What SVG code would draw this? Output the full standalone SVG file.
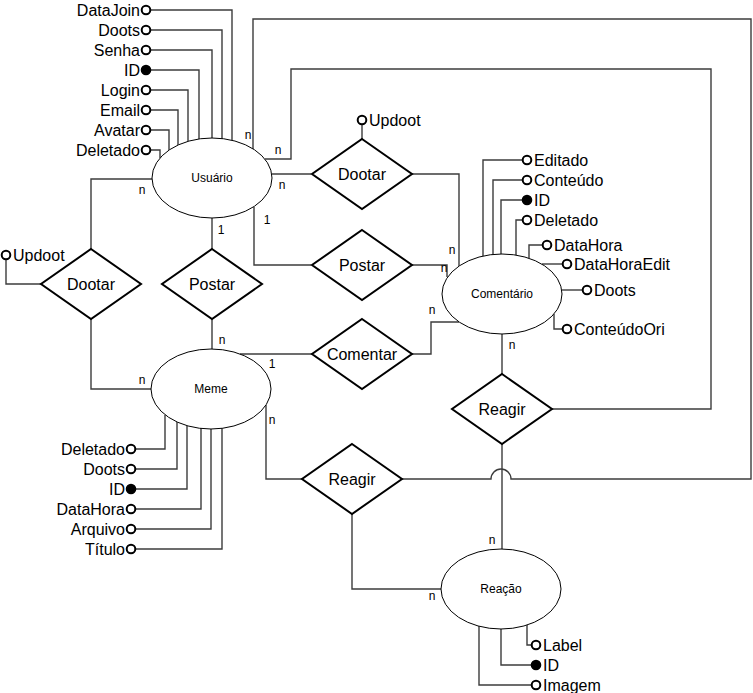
<svg xmlns="http://www.w3.org/2000/svg" width="753" height="693" viewBox="0 0 753 693">
<style>
.c{fill:none;stroke:#3c3c3c;stroke-width:1.4}
.e{fill:#fff;stroke:#000;stroke-width:1}
.d{fill:#fff;stroke:#000;stroke-width:2}
.a{fill:#fff;stroke:#000;stroke-width:2}
.k{fill:#000;stroke:#000;stroke-width:2}
text{font-family:"Liberation Sans",Arial,sans-serif;fill:#000}
.at{font-size:16px}
.en{font-size:12px;text-anchor:middle}
.rl{font-size:16px;text-anchor:middle}
.lb{font-size:12px;text-anchor:middle}
.r{text-anchor:end}
</style>
<rect width="753" height="693" fill="#fff"/>
<g id="connectors">
<!-- Usuario attributes -->
<path class="c" d="M150 10H232V140"/>
<path class="c" d="M150 30H222V139"/>
<path class="c" d="M150 50H212V138"/>
<path class="c" d="M150 70H199V139"/>
<path class="c" d="M150 90H188V141"/>
<path class="c" d="M150 110H178V145"/>
<path class="c" d="M150 130H169V150"/>
<path class="c" d="M150 150H160V158"/>
<!-- Meme attributes -->
<path class="c" d="M135 449H165V415"/>
<path class="c" d="M135 469H177V422"/>
<path class="c" d="M135 489H187V426"/>
<path class="c" d="M135 509H201V428"/>
<path class="c" d="M135 529H211V429"/>
<path class="c" d="M135 549H222V428"/>
<!-- Comentario attributes -->
<path class="c" d="M523 160H483V256"/>
<path class="c" d="M523 180H493V255"/>
<path class="c" d="M523 200H501V254"/>
<path class="c" d="M523 220H516V255"/>
<path class="c" d="M543 245H529V258"/>
<path class="c" d="M563 264H542"/>
<path class="c" d="M583 290H562"/>
<path class="c" d="M563 329H554V314"/>
<!-- Reacao attributes -->
<path class="c" d="M532 645H527V625"/>
<path class="c" d="M532 665H501V629"/>
<path class="c" d="M532 685H479V626"/>
<!-- relationships -->
<path class="c" d="M253 149V19H751V479H511A10 10 0 0 0 491 479H402"/>
<path class="c" d="M265 159H291V69H711V409H551"/>
<path class="c" d="M272 174H311"/>
<path class="c" d="M412 174H459V266"/>
<path class="c" d="M362 139V124"/>
<path class="c" d="M254 207V265H311"/>
<path class="c" d="M412 265H447V277"/>
<path class="c" d="M212 218V249"/>
<path class="c" d="M212 319V349"/>
<path class="c" d="M91 249V179H152"/>
<path class="c" d="M91 319V389H151"/>
<path class="c" d="M41 284H6V260"/>
<path class="c" d="M240 354H312"/>
<path class="c" d="M412 354H431V322H459"/>
<path class="c" d="M266 405V479H302"/>
<path class="c" d="M352 514V589H441"/>
<path class="c" d="M502 334V374"/>
<path class="c" d="M502 444V549"/>
<!-- edge labels -->
<text class="lb" x="248" y="139">n</text>
<text class="lb" x="278" y="154">n</text>
<text class="lb" x="282" y="189">n</text>
<text class="lb" x="267" y="224">1</text>
<text class="lb" x="221" y="234">1</text>
<text class="lb" x="142" y="194">n</text>
<text class="lb" x="452" y="254">n</text>
<text class="lb" x="444" y="272">n</text>
<text class="lb" x="222" y="344">n</text>
<text class="lb" x="142" y="384">n</text>
<text class="lb" x="272" y="368">1</text>
<text class="lb" x="432" y="314">n</text>
<text class="lb" x="512" y="349">n</text>
<text class="lb" x="272" y="424">n</text>
<text class="lb" x="492" y="544">n</text>
<text class="lb" x="432" y="600">n</text>
</g>
<g id="usuario">
<ellipse class="e" cx="212" cy="178" rx="60" ry="40"/>
<text class="en" x="212" y="182">Usuário</text>
</g>
<g id="usuario-attrs">
<circle class="a" cx="146" cy="10" r="4.3"/><text class="at r" x="140" y="16">DataJoin</text>
<circle class="a" cx="146" cy="30" r="4.3"/><text class="at r" x="140" y="36">Doots</text>
<circle class="a" cx="146" cy="50" r="4.3"/><text class="at r" x="140" y="56">Senha</text>
<circle class="k" cx="146" cy="70" r="4.3"/><text class="at r" x="140" y="76">ID</text>
<circle class="a" cx="146" cy="90" r="4.3"/><text class="at r" x="140" y="96">Login</text>
<circle class="a" cx="146" cy="110" r="4.3"/><text class="at r" x="140" y="116">Email</text>
<circle class="a" cx="146" cy="130" r="4.3"/><text class="at r" x="140" y="136">Avatar</text>
<circle class="a" cx="146" cy="150" r="4.3"/><text class="at r" x="140" y="156">Deletado</text>
</g>
<g id="meme">
<ellipse class="e" cx="211" cy="389" rx="60" ry="40"/>
<text class="en" x="211" y="393">Meme</text>
</g>
<g id="meme-attrs">
<circle class="a" cx="131" cy="449" r="4.3"/><text class="at r" x="125" y="455">Deletado</text>
<circle class="a" cx="131" cy="469" r="4.3"/><text class="at r" x="125" y="475">Doots</text>
<circle class="k" cx="131" cy="489" r="4.3"/><text class="at r" x="125" y="495">ID</text>
<circle class="a" cx="131" cy="509" r="4.3"/><text class="at r" x="125" y="515">DataHora</text>
<circle class="a" cx="131" cy="529" r="4.3"/><text class="at r" x="125" y="535">Arquivo</text>
<circle class="a" cx="131" cy="549" r="4.3"/><text class="at r" x="125" y="555">Título</text>
</g>
<g id="comentario">
<ellipse class="e" cx="502" cy="294" rx="60" ry="40"/>
<text class="en" x="502" y="298">Comentário</text>
</g>
<g id="comentario-attrs">
<circle class="a" cx="527" cy="160" r="4.3"/><text class="at" x="534" y="166">Editado</text>
<circle class="a" cx="527" cy="180" r="4.3"/><text class="at" x="534" y="186">Conteúdo</text>
<circle class="k" cx="527" cy="200" r="4.3"/><text class="at" x="534" y="206">ID</text>
<circle class="a" cx="527" cy="220" r="4.3"/><text class="at" x="534" y="226">Deletado</text>
<circle class="a" cx="547" cy="245" r="4.3"/><text class="at" x="554" y="251">DataHora</text>
<circle class="a" cx="567" cy="264" r="4.3"/><text class="at" x="574" y="270">DataHoraEdit</text>
<circle class="a" cx="587" cy="290" r="4.3"/><text class="at" x="594" y="296">Doots</text>
<circle class="a" cx="567" cy="329" r="4.3"/><text class="at" x="574" y="335">ConteúdoOri</text>
</g>
<g id="reacao">
<ellipse class="e" cx="501" cy="589" rx="60" ry="40"/>
<text class="en" x="501" y="593">Reação</text>
</g>
<g id="reacao-attrs">
<circle class="a" cx="536" cy="645" r="4.3"/><text class="at" x="543" y="651">Label</text>
<circle class="k" cx="536" cy="665" r="4.3"/><text class="at" x="543" y="671">ID</text>
<circle class="a" cx="536" cy="685" r="4.3"/><text class="at" x="543" y="691">Imagem</text>
</g>
<g id="dootar-usuario-comentario">
<polygon class="d" points="362,139 412,174 362,209 312,174"/>
<text class="rl" x="362" y="180">Dootar</text>
<circle class="a" cx="362" cy="120" r="4.3"/><text class="at" x="369" y="126">Updoot</text>
</g>
<g id="postar-comentario">
<polygon class="d" points="362,230 412,265 362,300 312,265"/>
<text class="rl" x="362" y="271">Postar</text>
</g>
<g id="dootar-meme">
<polygon class="d" points="91,249 141,284 91,319 41,284"/>
<text class="rl" x="91" y="290">Dootar</text>
<circle class="a" cx="6" cy="255" r="4.3"/><text class="at" x="13" y="261">Updoot</text>
</g>
<g id="postar-meme">
<polygon class="d" points="212,249 262,284 212,319 162,284"/>
<text class="rl" x="212" y="290">Postar</text>
</g>
<g id="comentar">
<polygon class="d" points="362,319 412,354 362,389 312,354"/>
<text class="rl" x="362" y="360">Comentar</text>
</g>
<g id="reagir-meme">
<polygon class="d" points="352,444 402,479 352,514 302,479"/>
<text class="rl" x="352" y="485">Reagir</text>
</g>
<g id="reagir-comentario">
<polygon class="d" points="502,374 552,409 502,444 452,409"/>
<text class="rl" x="502" y="415">Reagir</text>
</g>
</svg>
